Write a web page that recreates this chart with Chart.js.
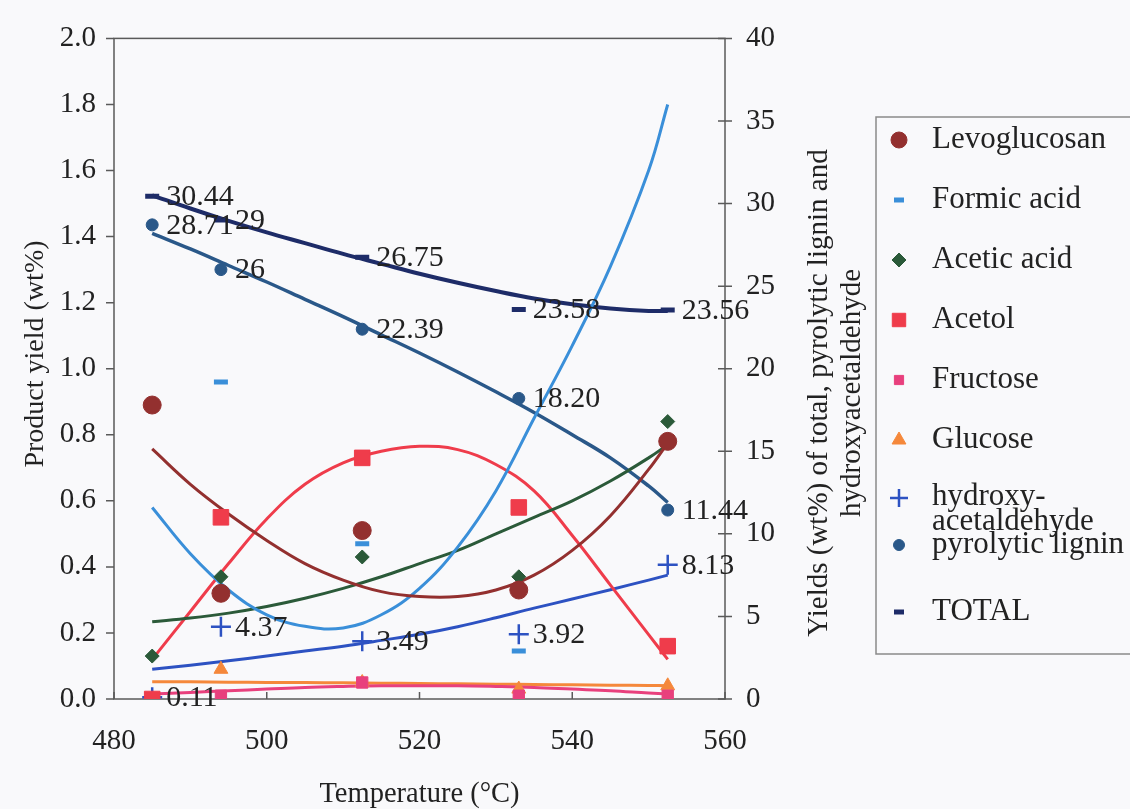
<!DOCTYPE html>
<html>
<head>
<meta charset="utf-8">
<script src="https://cdn.jsdelivr.net/npm/chart.js@4.4.1/dist/chart.umd.min.js"></script>
<style>
  html, body { margin: 0; padding: 0; background: #f9f9fb; }
  #wrap { width: 1130px; height: 809px; position: relative; }
</style>
</head>
<body>
<div id="wrap"><canvas id="c" width="1130" height="809"></canvas></div>
<script>
// ---- Data ----
const temps = [485, 494, 512.5, 533, 552.5];

// left axis (Product yield, wt%)
const levoglucosan = [0.89, 0.32, 0.51, 0.33, 0.78];
const formicAcid   = [null, 0.96, 0.47, 0.145, null];
const aceticAcid   = [0.13, 0.37, 0.43, 0.37, 0.84];
const acetol       = [0.0, 0.55, 0.73, 0.58, 0.16];
const fructose     = [0.0, 0.01, 0.05, 0.01, 0.01];
const glucose      = [null, 0.09, 0.05, 0.03, 0.04];

// right axis (Yields wt%)
const hydroxyacetaldehyde = [0.11, 4.37, 3.49, 3.92, 8.13];
const pyrolyticLignin     = [28.71, 26, 22.39, 18.20, 11.44];
const total               = [30.44, 29, 26.75, 23.58, 23.56];

const hydroxyLabels = ["0.11", "4.37", "3.49", "3.92", "8.13"];
const ligninLabels  = ["28.71", "26", "22.39", "18.20", "11.44"];
const totalLabels   = ["30.44", "29", "26.75", "23.58", "23.56"];

// trend curves at these temperatures
const trendTemps = [485, 490, 495, 500, 505, 510, 515, 520, 525, 530, 535, 540, 545, 550, 552.5];
const levoTrend    = [0.757, 0.65, 0.56, 0.48, 0.41, 0.36, 0.325, 0.31, 0.31, 0.33, 0.375, 0.45, 0.555, 0.695, 0.775];
const formicTrend  = [0.58, 0.44, 0.33, 0.255, 0.22, 0.215, 0.255, 0.335, 0.46, 0.63, 0.85, 1.07, 1.31, 1.60, 1.80];
const aceticTrend  = [0.234, 0.245, 0.26, 0.28, 0.305, 0.335, 0.37, 0.41, 0.45, 0.50, 0.55, 0.60, 0.66, 0.73, 0.77];
const acetolTrend  = [0.12, 0.265, 0.41, 0.545, 0.65, 0.715, 0.75, 0.765, 0.755, 0.71, 0.63, 0.495, 0.345, 0.195, 0.12];
const fructoseTrend= [0.015, 0.02, 0.025, 0.03, 0.035, 0.038, 0.04, 0.04, 0.04, 0.038, 0.035, 0.03, 0.025, 0.018, 0.015];
const glucoseTrend = [0.052, 0.052, 0.051, 0.05, 0.05, 0.049, 0.048, 0.047, 0.046, 0.045, 0.044, 0.043, 0.042, 0.041, 0.04];
const hydroxyTrend = [1.8, 2.05, 2.32, 2.6, 2.9, 3.2, 3.55, 3.92, 4.38, 4.92, 5.5, 6.05, 6.62, 7.2, 7.5];
const ligninTrend  = [28.2, 27.25, 26.25, 25.25, 24.2, 23.15, 22.05, 20.95, 19.8, 18.6, 17.35, 16.0, 14.6, 12.9, 11.9];
const totalTrend   = [30.5, 29.7, 28.95, 28.25, 27.6, 26.95, 26.35, 25.75, 25.2, 24.7, 24.25, 23.9, 23.65, 23.5, 23.5];

const leftTicks  = [0, 0.2, 0.4, 0.6, 0.8, 1.0, 1.2, 1.4, 1.6, 1.8, 2.0];
const rightTicks = [0, 5, 10, 15, 20, 25, 30, 35, 40];
const xTicks     = [480, 500, 520, 540, 560];

const seriesNames = ["Levoglucosan", "Formic acid", "Acetic acid", "Acetol", "Fructose", "Glucose",
                     ["hydroxy-", "acetaldehyde"], "pyrolytic lignin", "TOTAL"];

// ---- helpers ----
const pts = (xs, ys) => xs.map((x, i) => ({ x: x, y: ys[i] })).filter(p => p.y !== null);
const FONT = "'Liberation Serif', 'Times New Roman', serif";

function markers(name, ys, axis, style, color, radius, bw, legendRadius, extra) {
  return Object.assign({
    label: name, data: pts(temps, ys), yAxisID: axis, showLine: false,
    pointStyle: style, pointRadius: radius, pointHoverRadius: radius,
    backgroundColor: color, borderColor: color, pointBorderWidth: bw,
    order: 1, isMarker: true, legendRadius: legendRadius
  }, extra || {});
}
function trend(ys, axis, color, width) {
  return {
    label: '', data: pts(trendTemps, ys), yAxisID: axis, showLine: true,
    borderColor: color, borderWidth: width || 3, pointRadius: 0, tension: 0.4,
    fill: false, order: 2, isTrend: true
  };
}

const C = {
  levo: '#93302f', formic: '#3a8fd9', acetic: '#2b5a39', acetol: '#ef3c4b',
  fructose: '#e8407d', glucose: '#f5883b', hydroxy: '#2d52c2', lignin: '#2a5889', total: '#1e2c68'
};

const datasets = [
  trend(levoTrend, 'y', C.levo),
  trend(formicTrend, 'y', C.formic),
  trend(aceticTrend, 'y', C.acetic),
  trend(acetolTrend, 'y', C.acetol),
  trend(fructoseTrend, 'y', C.fructose),
  trend(glucoseTrend, 'y', C.glucose),
  trend(hydroxyTrend, 'y2', C.hydroxy),
  trend(ligninTrend, 'y2', C.lignin, 3.5),
  trend(totalTrend, 'y2', C.total, 4),
  markers(seriesNames[0], levoglucosan, 'y', 'circle', C.levo, 9, 1, 8),
  markers(seriesNames[1], formicAcid, 'y', 'line', C.formic, 7, 5, 5),
  markers(seriesNames[2], aceticAcid, 'y', 'rectRot', C.acetic, 7, 1, 7),
  markers(seriesNames[3], acetol, 'y', 'rect', C.acetol, 11, 1, 9.5),
  markers(seriesNames[4], fructose, 'y', 'rect', C.fructose, 8, 1, 6.5),
  markers(seriesNames[5], glucose, 'y', 'triangle', C.glucose, 8, 1, 8),
  markers(seriesNames[6], hydroxyacetaldehyde, 'y2', 'cross', C.hydroxy, 10, 2.5, 9, { valueLabels: hydroxyLabels }),
  markers(seriesNames[7], pyrolyticLignin, 'y2', 'circle', C.lignin, 6, 1, 5.5, { valueLabels: ligninLabels }),
  markers(seriesNames[8], total, 'y2', 'line', C.total, 7, 5, 5, { valueLabels: totalLabels })
];

// ---- plugins ----
const framePlugin = {
  id: 'frame',
  beforeDatasetsDraw(chart) {
    const { ctx, chartArea: a, scales } = chart;
    ctx.save();
    ctx.strokeStyle = '#5a5a5a';
    ctx.lineWidth = 1.5;
    ctx.strokeRect(a.left, a.top, a.right - a.left, a.bottom - a.top);
    ctx.beginPath();
    leftTicks.forEach(v => { const y = scales.y.getPixelForValue(v); ctx.moveTo(a.left - 8, y); ctx.lineTo(a.left, y); });
    rightTicks.forEach(v => { const y = scales.y2.getPixelForValue(v); ctx.moveTo(a.right - 7, y); ctx.lineTo(a.right + 7, y); });
    xTicks.forEach(v => { const x = scales.x.getPixelForValue(v); ctx.moveTo(x, a.bottom); ctx.lineTo(x, a.bottom - 7); });
    ctx.stroke();
    ctx.restore();
  }
};

const labelPlugin = {
  id: 'valueLabels',
  afterDatasetsDraw(chart) {
    const { ctx } = chart;
    ctx.save();
    ctx.font = '30px ' + FONT;
    ctx.fillStyle = '#222';
    ctx.textAlign = 'left';
    ctx.textBaseline = 'middle';
    chart.data.datasets.forEach((ds, i) => {
      if (!ds.valueLabels) return;
      const meta = chart.getDatasetMeta(i);
      meta.data.forEach((el, j) => {
        ctx.fillText(ds.valueLabels[j], el.x + 14, el.y + 1);
      });
    });
    ctx.restore();
  }
};

const extrasPlugin = {
  id: 'extras',
  afterDraw(chart) {
    const { ctx } = chart;
    // left axis title
    ctx.save();
    ctx.font = '28px ' + FONT;
    ctx.fillStyle = '#222';
    ctx.textAlign = 'center';
    ctx.textBaseline = 'middle';
    ctx.translate(36, 354);
    ctx.rotate(-Math.PI / 2);
    ctx.fillText('Product yield (wt%)', 0, 0);
    ctx.restore();

    // right axis title (reads bottom-to-top)
    ctx.save();
    ctx.font = '29px ' + FONT;
    ctx.fillStyle = '#222';
    ctx.textAlign = 'center';
    ctx.textBaseline = 'middle';
    ctx.translate(819, 393);
    ctx.rotate(-Math.PI / 2);
    ctx.fillText('Yields (wt%) of total, pyrolytic lignin and', 0, 0);
    ctx.fillText('hydroxyacetaldehyde', 0, 33);
    ctx.restore();

    // legend
    ctx.save();
    ctx.strokeStyle = '#8a8a8a';
    ctx.lineWidth = 1.5;
    ctx.strokeRect(876, 117, 300, 537);
    ctx.font = '31px ' + FONT;
    ctx.fillStyle = '#222';
    ctx.textAlign = 'left';
    ctx.textBaseline = 'middle';
    const rows = [140, 200, 260, 320, 380, 440, 498, 545, 612];
    const markerSets = chart.data.datasets.filter(d => d.isMarker);
    markerSets.forEach((ds, i) => {
      const y = rows[i];
      ctx.save();
      ctx.fillStyle = ds.backgroundColor;
      ctx.strokeStyle = ds.borderColor;
      ctx.lineWidth = ds.pointBorderWidth;
      Chart.helpers.drawPoint(ctx, { pointStyle: ds.pointStyle, radius: ds.legendRadius, borderWidth: ds.pointBorderWidth, rotation: 0 }, 899, y);
      ctx.restore();
      const name = seriesNames[i];
      if (Array.isArray(name)) {
        ctx.fillText(name[0], 932, y - 1);
        ctx.fillText(name[1], 932, y + 24);
      } else {
        ctx.fillText(name, 932, y);
      }
    });
    ctx.restore();
  }
};

new Chart(document.getElementById('c'), {
  type: 'scatter',
  data: { datasets: datasets },
  options: {
    responsive: false,
    animation: false,
    devicePixelRatio: 1,
    layout: { padding: { top: 23, right: 0, left: 0, bottom: 0 } },
    plugins: { legend: { display: false }, tooltip: { enabled: false } },
    scales: {
      x: {
        type: 'linear', min: 480, max: 560,
        afterFit: s => { s.height = 110; },
        afterBuildTicks: s => { s.ticks = xTicks.map(v => ({ value: v })); },
        grid: { display: false, drawTicks: false },
        border: { display: false },
        ticks: { color: '#222', font: { family: FONT, size: 29 }, padding: 25 },
        title: { display: true, text: 'Temperature (°C)', color: '#222',
                 font: { family: FONT, size: 28.5, lineHeight: 1.0 }, padding: { top: 0, bottom: 0 } }
      },
      y: {
        position: 'left', min: 0, max: 2,
        afterFit: s => { s.width = 114; },
        afterBuildTicks: s => { s.ticks = leftTicks.map(v => ({ value: v })); },
        grid: { display: false, drawTicks: false },
        border: { display: false },
        ticks: { color: '#222', font: { family: FONT, size: 29 }, padding: 18,
                 callback: v => Number(v).toFixed(1) }
      },
      y2: {
        position: 'right', min: 0, max: 40,
        afterFit: s => { s.width = 405; },
        afterBuildTicks: s => { s.ticks = rightTicks.map(v => ({ value: v })); },
        grid: { display: false, drawTicks: false },
        border: { display: false },
        ticks: { color: '#222', font: { family: FONT, size: 29 }, padding: 21,
                 callback: v => String(v) }
      }
    }
  },
  plugins: [framePlugin, labelPlugin, extrasPlugin]
});
</script>
</body>
</html>
